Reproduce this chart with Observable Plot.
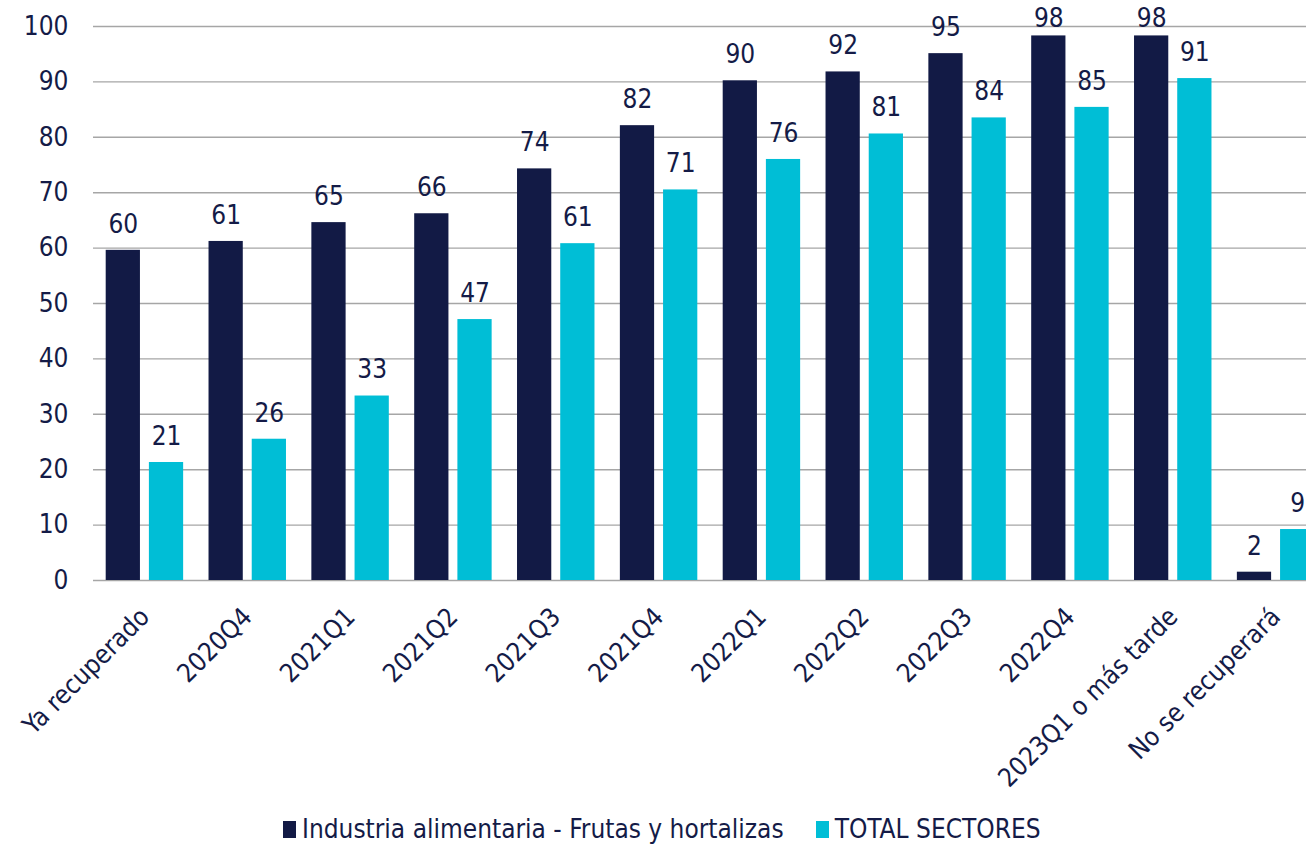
<!DOCTYPE html>
<html>
<head>
<meta charset="utf-8">
<script src="https://cdn.jsdelivr.net/npm/d3@7"></script>
<script src="https://cdn.jsdelivr.net/npm/@observablehq/plot@0.6"></script>
<style>
  html, body { margin: 0; padding: 0; overflow: hidden; background: #fff; }
  #chart { width: 1306px; height: 845px; overflow: hidden; position: relative; }
  #chart svg { max-width: none !important; }
  .legend { position: absolute; top: 814px; left: 283px; display: flex; align-items: center;
    font-family: "DejaVu Sans Condensed", "DejaVu Sans", sans-serif; font-stretch: condensed;
    font-size: 26px; color: #141B47; line-height: 30px; }
  .legend .item { display: flex; align-items: center; margin-right: 32px; }
  .legend .sw { width: 13px; height: 17px; margin-right: 6px; }
</style>
</head>
<body>
<div id="chart"></div>
<script>
const categories = ["Ya recuperado", "2020Q4", "2021Q1", "2021Q2", "2021Q3", "2021Q4",
  "2022Q1", "2022Q2", "2022Q3", "2022Q4", "2023Q1 o más tarde", "No se recuperará"];
const seriesNames = ["Industria alimentaria - Frutas y hortalizas", "TOTAL SECTORES"];
const industria = [59.6, 61.2, 64.6, 66.2, 74.3, 82.1, 90.2, 91.8, 95.1, 98.3, 98.3, 1.5];
const totalSectores = [21.3, 25.5, 33.3, 47.1, 60.8, 70.5, 76.0, 80.6, 83.5, 85.4, 90.6, 9.2];
const yTicks = [0, 10, 20, 30, 40, 50, 60, 70, 80, 90, 100];
const colors = ["#121A45", "#00BED6"];

const textColor = "#141B47";
const font = '"DejaVu Sans Condensed", "DejaVu Sans", sans-serif';

const rows0 = categories.map((c, i) => ({cat: c, series: seriesNames[0], value: industria[i]}));
const rows1 = categories.map((c, i) => ({cat: c, series: seriesNames[1], value: totalSectores[i]}));

const off = 21.6;
const label = d => String(Math.round(d.value));
const nearTop = d => d.value > 97;
const notNearTop = d => !nearTop(d);

const chart = Plot.plot({
  width: 1327,
  height: 812,
  marginLeft: 93,
  marginRight: 0,
  marginTop: 26,
  marginBottom: 232,
  style: {fontFamily: font, fontSize: "26px", color: textColor, background: "transparent", overflow: "visible", fontStretch: "condensed", maxWidth: "none"},
  x: {domain: categories, paddingInner: 0.667, paddingOuter: 0.3335, round: false, label: null},
  y: {domain: [0, 100], label: null},
  color: {domain: seriesNames, range: colors},
  marks: [
    Plot.ruleY(yTicks, {stroke: "#A6A6A6", strokeWidth: 1.4}),
    Plot.barY(rows0, {x: "cat", y: "value", fill: "series", dx: -off}),
    Plot.barY(rows1, {x: "cat", y: "value", fill: "series", dx: off}),
    Plot.text(rows0, {filter: notNearTop, x: "cat", y: "value", text: label, dx: -off, dy: -26, fill: textColor, fontSize: 26}),
    Plot.text(rows0, {filter: nearTop, x: "cat", y: "value", text: label, dx: -off, dy: -17.5, fill: textColor, fontSize: 26}),
    Plot.text(rows1, {filter: notNearTop, x: "cat", y: "value", text: label, dx: off, dy: -26, fill: textColor, fontSize: 26}),
    Plot.text(rows1, {filter: nearTop, x: "cat", y: "value", text: label, dx: off, dy: -17.5, fill: textColor, fontSize: 26}),
    Plot.axisX({tickSize: 0, tickRotate: -45, tickPadding: 32, label: null, fill: textColor, fontSize: 26}),
    Plot.axisY({ticks: yTicks, tickSize: 0, tickPadding: 25, label: null, fill: textColor, fontSize: 26})
  ]
});
chart.style.maxWidth = "none";
const holder = document.getElementById("chart");
holder.appendChild(chart);

const legend = document.createElement("div");
legend.className = "legend";
seriesNames.forEach((s, i) => {
  const it = document.createElement("div");
  it.className = "item";
  const sw = document.createElement("span");
  sw.className = "sw";
  sw.style.background = colors[i];
  const tx = document.createElement("span");
  tx.textContent = s;
  it.appendChild(sw); it.appendChild(tx);
  legend.appendChild(it);
});
holder.appendChild(legend);
</script>
</body>
</html>
